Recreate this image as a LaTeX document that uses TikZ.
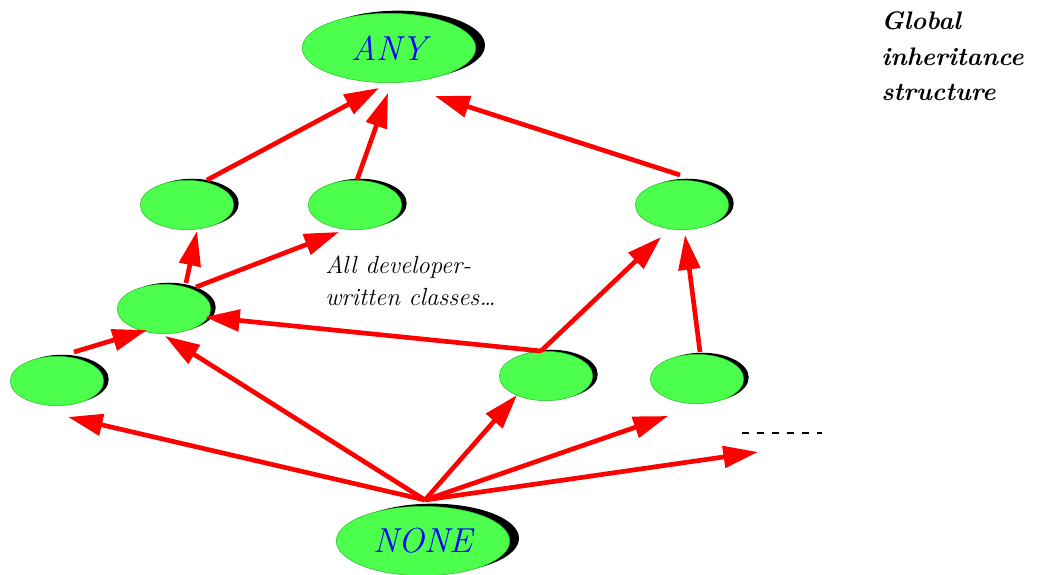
\documentclass[tikz,border=0pt]{standalone}
\usepackage{fontspec}
\usetikzlibrary{arrows.meta,calc,shapes.geometric}

\definecolor{nodegreen}{RGB}{76,255,76}
\definecolor{rimgreen}{RGB}{40,190,40}
\definecolor{linkred}{RGB}{255,0,0}
\definecolor{labelblue}{RGB}{0,0,255}

\begin{document}
\begin{tikzpicture}[x=0.75pt,y=-0.75pt,
  classbase/.style={ellipse, draw=rimgreen, line width=0.4pt, fill=nodegreen, inner sep=0pt},
  classnode/.style={classbase, minimum width=70pt, minimum height=37pt,
    preaction={fill=black, transform canvas={xshift=3.8pt, yshift=1.2pt}}},
  rootnode/.style={classbase, minimum width=130pt, minimum height=52pt,
    text=labelblue, font=\itshape\fontsize{26}{30}\selectfont,
    preaction={fill=black, transform canvas={xshift=7pt, yshift=2pt}}},
  link/.style={draw=linkred, line width=3.5pt, -{Triangle[length=26pt,width=16pt]}},
  notetext/.style={anchor=base west, inner sep=0pt, font=\itshape\fontsize{18.6}{23}\selectfont},
  titletext/.style={anchor=base west, inner sep=0pt, font=\bfseries\itshape\fontsize{19}{22}\selectfont}
]
\useasboundingbox (0,0) rectangle (1037,574);

% classes of the hierarchy
\node[rootnode]  (any)  at (389,48)  {ANY};
\node[classnode] (a)    at (187,205) {};
\node[classnode] (b)    at (355,205) {};
\node[classnode] (c)    at (682,205) {};
\node[classnode] (d)    at (164,309) {};
\node[classnode] (e)    at (57,381)  {};
\node[classnode] (f)    at (546,376) {};
\node[classnode] (g)    at (697,379) {};
\node[rootnode]  (none) at (423,541) {NONE};

% open end of the hierarchy
\coordinate (more)  at (758,452);
\coordinate (dotsL) at (742,433);
\coordinate (dotsR) at (822,433);

% inheritance links (child -> parent)
\draw[link] ($(a)+(20,-25)$)   -- ($(any)+(-10,40)$);
\draw[link] ($(b)+(2,-25)$)    -- ($(any)+(-1,45)$);
\draw[link] ($(c)+(-2,-30)$)   -- ($(any)+(46,48)$);
\draw[link] ($(d)+(22,-26)$)   -- ($(a)+(10,26)$);
\draw[link] ($(d)+(32,-22)$)   -- ($(b)+(-16,27)$);
\draw[link] ($(f)+(-5,-25)$)   -- ($(d)+(41,8)$);
\draw[link] ($(f)+(-5,-25)$)   -- ($(c)+(-21,32)$);
\draw[link] ($(g)+(3,-27)$)    -- ($(c)+(3,30)$);
\draw[link] ($(e)+(17,-29)$)   -- ($(d)+(-17,21)$);
\draw[link] ($(none)+(2,-41)$) -- ($(d)+(1,27)$);
\draw[link] ($(none)+(2,-41)$) -- ($(e)+(11,36)$);
\draw[link] ($(none)+(2,-41)$) -- ($(f)+(-29,19)$);
\draw[link] ($(none)+(2,-41)$) -- ($(g)+(-29,37)$);
\draw[link] ($(none)+(2,-41)$) -- (more);

\draw[line width=1.6pt, dash pattern=on 5.3pt off 5.9pt] (dotsL) -- (dotsR);

% annotations
\node[notetext] (note1) at (325,273) {All developer-};
\node[notetext] (note2) at (325,305) {written classes…};

\node[titletext] (t1) at (881,30)  {Global};
\node[titletext] (t2) at (881,66)  {inheritance};
\node[titletext] (t3) at (881,101) {structure};
\end{tikzpicture}
\end{document}
